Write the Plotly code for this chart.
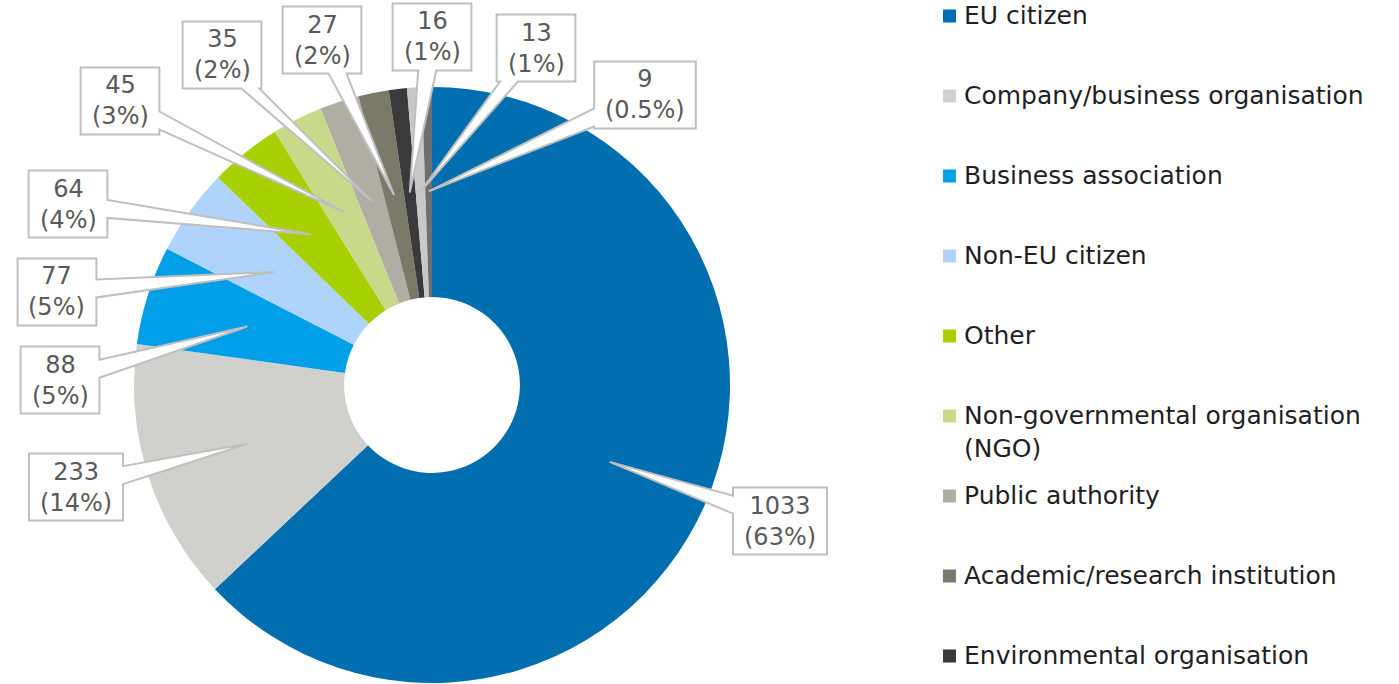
import plotly.graph_objects as go
import math

# ---------------- data ----------------
categories = [
    "EU citizen",
    "Company/business organisation",
    "Business association",
    "Non-EU citizen",
    "Other",
    "Non-governmental organisation (NGO)",
    "Public authority",
    "Academic/research institution",
    "Environmental organisation",
    "Consumer organisation",
    "Trade union",
]
values = [1033, 233, 88, 77, 64, 45, 35, 27, 16, 13, 9]
pct_labels = ["63%", "14%", "5%", "5%", "4%", "3%", "2%", "2%", "1%", "1%", "0.5%"]
legend_labels = [
    "EU citizen",
    "Company/business organisation",
    "Business association",
    "Non-EU citizen",
    "Other",
    "Non-governmental organisation<br>(NGO)",
    "Public authority",
    "Academic/research institution",
    "Environmental organisation",
    "Consumer organisation",
    "Trade union",
]

# ---------------- styles / layout ----------------
colors = ["#006EAF", "#D0D0CC", "#009FE8", "#AED4FB", "#A8D000", "#C8DA8A",
          "#B0ADA5", "#7B7A68", "#3A3A3A", "#C8C8C8", "#6E6E6E"]
W, H = 1399, 684
FONT = "DejaVu Sans"
LBL_SIZE = 24
LEG_SIZE = 25

# pie geometry (pixels)
CX, CY, R = 432, 385, 298
HOLE = 0.295
TIP_FRAC = 0.65

# label box centres (pixels)
label_pos = [(780, 521), (76, 487), (60, 380), (57, 292), (68, 204), (120, 101),
             (222, 55), (322, 40), (432, 37), (536, 48), (645, 95)]
BOX_H = 67


def px(x):
    return x / W


def py(y):
    return 1 - y / H


fig = go.Figure()
fig.add_trace(go.Pie(
    labels=categories,
    values=values,
    sort=False,
    direction="clockwise",
    rotation=0,
    hole=HOLE,
    marker=dict(colors=colors, line=dict(width=0)),
    textinfo="none",
    showlegend=False,
    domain=dict(x=[px(CX - R), px(CX + R)], y=[py(CY + R), py(CY - R)]),
))

cw = {"0": .636, "1": .636, "2": .636, "3": .636, "4": .636, "5": .636, "6": .636,
      "7": .636, "8": .636, "9": .636, "(": .39, ")": .39, "%": .95, ".": .318}


def text_w(s):
    return sum(cw.get(c, .6) for c in s) * LBL_SIZE


total = sum(values)
shapes = []
annotations = []
cum = 0
HALF = 9
for i, v in enumerate(values):
    mid = (cum + v / 2) / total * 2 * math.pi
    cum += v
    tx = CX + TIP_FRAC * R * math.sin(mid)
    ty = CY - TIP_FRAC * R * math.cos(mid)
    line1 = str(v)
    line2 = "(" + pct_labels[i] + ")"
    bw = max(text_w(line1), text_w(line2)) + 22
    hw, hh = bw / 2, BOX_H / 2
    cx, cy = label_pos[i]
    L, Rr, T, B = cx - hw, cx + hw, cy - hh, cy + hh
    dx, dy = tx - cx, ty - cy
    sx = hw / abs(dx) if dx != 0 else 1e9
    sy = hh / abs(dy) if dy != 0 else 1e9
    t = min(sx, sy)
    ex, ey = cx + t * dx, cy + t * dy
    pts = [(L, T)]
    if sy < sx and dy < 0:  # top
        bx = min(max(ex, L + HALF + 2), Rr - HALF - 2)
        pts += [(bx - HALF, T), (tx, ty), (bx + HALF, T)]
    pts.append((Rr, T))
    if sx <= sy and dx > 0:  # right
        by = min(max(ey, T + HALF + 2), B - HALF - 2)
        pts += [(Rr, by - HALF), (tx, ty), (Rr, by + HALF)]
    pts.append((Rr, B))
    if sy < sx and dy > 0:  # bottom
        bx = min(max(ex, L + HALF + 2), Rr - HALF - 2)
        pts += [(bx + HALF, B), (tx, ty), (bx - HALF, B)]
    pts.append((L, B))
    if sx <= sy and dx < 0:  # left
        by = min(max(ey, T + HALF + 2), B - HALF - 2)
        pts += [(L, by + HALF), (tx, ty), (L, by - HALF)]
    path = "M " + " L ".join(f"{px(x):.5f},{py(y):.5f}" for x, y in pts) + " Z"
    shapes.append(dict(type="path", xref="paper", yref="paper", path=path,
                       fillcolor="white", line=dict(color="#BFBFBF", width=2),
                       layer="above"))
    annotations.append(dict(x=px(cx), y=py(cy), xref="paper", yref="paper",
                            text=line1 + "<br>" + line2, showarrow=False,
                            xanchor="center", yanchor="middle", align="center",
                            font=dict(family=FONT, size=LBL_SIZE, color="#595959")))

# manual legend
LEG_X0, LEG_Y0, LEG_DY, SQ = 943, 16, 80, 13
for i, lab in enumerate(legend_labels):
    yc = LEG_Y0 + LEG_DY * i
    if yc > H:
        break
    shapes.append(dict(type="rect", xref="paper", yref="paper",
                       x0=px(LEG_X0), x1=px(LEG_X0 + SQ),
                       y0=py(yc + SQ / 2), y1=py(yc - SQ / 2),
                       fillcolor=colors[i], line=dict(width=0)))
    annotations.append(dict(x=px(962), y=py(yc - 17), xref="paper", yref="paper",
                            text=lab, showarrow=False, xanchor="left", yanchor="top",
                            align="left",
                            font=dict(family=FONT, size=LEG_SIZE, color="#1F1F1F")))

fig.update_layout(
    width=W, height=H,
    margin=dict(l=0, r=0, t=0, b=0),
    paper_bgcolor="white",
    plot_bgcolor="white",
    shapes=shapes,
    annotations=annotations,
)
fig.write_html("out.html",
               config={"displayModeBar": False},
               post_script="document.body.style.margin='0px';document.body.style.overflow='hidden';")
